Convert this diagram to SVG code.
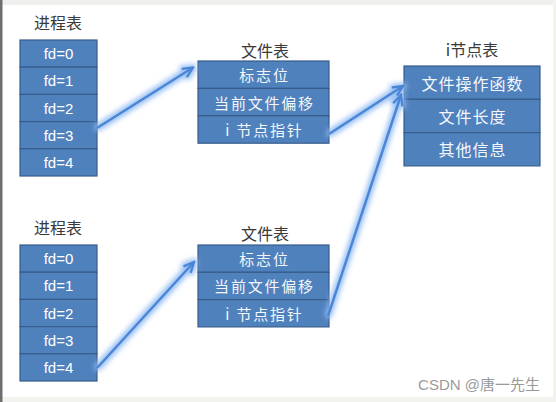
<svg xmlns="http://www.w3.org/2000/svg" width="556" height="402" viewBox="0 0 556 402">
<style>
.cell{fill:#4f81bd;stroke:#385d8a;stroke-width:1.2}
.t{font-family:"Noto Sans CJK SC","Noto Sans",sans-serif;fill:#f4f6fa;text-anchor:middle;dominant-baseline:central}
.fd{font-family:"Liberation Sans","Noto Sans",sans-serif;font-size:15px;fill:#ffffff;text-anchor:middle;dominant-baseline:central}
.ft{font-size:15px;letter-spacing:1.8px}
.it{font-size:16px;letter-spacing:1px}
.title{font-family:"Noto Sans CJK SC",sans-serif;font-size:16px;fill:#3a3a3a;text-anchor:middle;dominant-baseline:central}
.arr{fill:none;stroke:#4a86d6;stroke-width:2.5;marker-end:url(#ah)}
</style>
<defs>
<marker id="ah" viewBox="0 0 12 12" refX="10.5" refY="6" markerWidth="13" markerHeight="13" markerUnits="userSpaceOnUse" orient="auto">
<path d="M1,1.5 L10.5,6 L1,10.5" fill="none" stroke="#4a86d6" stroke-width="2.2" stroke-linejoin="miter"/>
</marker>
<filter id="glow" filterUnits="userSpaceOnUse" x="0" y="0" width="556" height="402">
<feMorphology in="SourceAlpha" operator="dilate" radius="2" result="d"/>
<feGaussianBlur in="d" stdDeviation="2.6" result="b"/>
<feFlood flood-color="#8fbaf3" flood-opacity="0.9"/>
<feComposite in2="b" operator="in" result="g"/>
<feMerge><feMergeNode in="g"/><feMergeNode in="SourceGraphic"/></feMerge>
</filter>
</defs>
<rect x="0" y="0" width="556" height="402" fill="#ffffff"/>
<rect x="0" y="0" width="556" height="5" fill="#efefed"/>
<rect x="0" y="397" width="556" height="5" fill="#f2f2ef"/>
<rect x="553" y="0" width="3" height="402" fill="#f2f2ef"/>
<rect x="0" y="0" width="2.5" height="402" fill="#6e6e6e"/>

<g id="proc1">
<text class="title" x="58" y="22">进程表</text>
<rect class="cell" x="20" y="40" width="77" height="27.2"/>
<rect class="cell" x="20" y="67.2" width="77" height="27.2"/>
<rect class="cell" x="20" y="94.4" width="77" height="27.2"/>
<rect class="cell" x="20" y="121.6" width="77" height="27.2"/>
<rect class="cell" x="20" y="148.8" width="77" height="27.2"/>
<text class="fd" x="58.5" y="53.6">fd=0</text>
<text class="fd" x="58.5" y="80.8">fd=1</text>
<text class="fd" x="58.5" y="108">fd=2</text>
<text class="fd" x="58.5" y="135.2">fd=3</text>
<text class="fd" x="58.5" y="162.4">fd=4</text>
</g>

<g id="proc2">
<text class="title" x="58" y="227">进程表</text>
<rect class="cell" x="20" y="245" width="77" height="27.2"/>
<rect class="cell" x="20" y="272.2" width="77" height="27.2"/>
<rect class="cell" x="20" y="299.4" width="77" height="27.2"/>
<rect class="cell" x="20" y="326.6" width="77" height="27.2"/>
<rect class="cell" x="20" y="353.8" width="77" height="27.2"/>
<text class="fd" x="58.5" y="258.6">fd=0</text>
<text class="fd" x="58.5" y="285.8">fd=1</text>
<text class="fd" x="58.5" y="313">fd=2</text>
<text class="fd" x="58.5" y="340.2">fd=3</text>
<text class="fd" x="58.5" y="367.4">fd=4</text>
</g>

<g id="file1">
<text class="title" x="265" y="50">文件表</text>
<rect class="cell" x="198" y="61" width="131" height="27.4"/>
<rect class="cell" x="198" y="88.4" width="131" height="27.4"/>
<rect class="cell" x="198" y="115.8" width="131" height="27.4"/>
<text class="t ft" x="264.5" y="74.7">标志位</text>
<text class="t ft" x="264.5" y="102.1">当前文件偏移</text>
<text class="t ft" x="264.5" y="129.5">i 节点指针</text>
</g>

<g id="file2">
<text class="title" x="265" y="233">文件表</text>
<rect class="cell" x="198" y="245" width="131" height="27.3"/>
<rect class="cell" x="198" y="272.3" width="131" height="27.3"/>
<rect class="cell" x="198" y="299.6" width="131" height="27.3"/>
<text class="t ft" x="264.5" y="258.6">标志位</text>
<text class="t ft" x="264.5" y="285.9">当前文件偏移</text>
<text class="t ft" x="264.5" y="313.2">i 节点指针</text>
</g>

<g id="inode">
<text class="title" x="472" y="49">i节点表</text>
<rect class="cell" x="404" y="66" width="136" height="33.3"/>
<rect class="cell" x="404" y="99.3" width="136" height="33.3"/>
<rect class="cell" x="404" y="132.6" width="136" height="33.3"/>
<text class="t it" x="472.5" y="82.6">文件操作函数</text>
<text class="t it" x="472.5" y="115.9">文件长度</text>
<text class="t it" x="472.5" y="149.2">其他信息</text>
</g>

<g id="connectors" filter="url(#glow)">
<path class="arr" d="M97,128 L193,67.5"/>
<path class="arr" d="M97,368 L194,262"/>
<path class="arr" d="M329,134 L403,86"/>
<path class="arr" d="M328,316 L401,95"/>
</g>

<text x="540" y="384" font-family="Liberation Sans,'Noto Sans CJK SC',sans-serif" font-size="15" fill="#9a9a9a" text-anchor="end" dominant-baseline="central">CSDN @唐一先生</text>
</svg>
